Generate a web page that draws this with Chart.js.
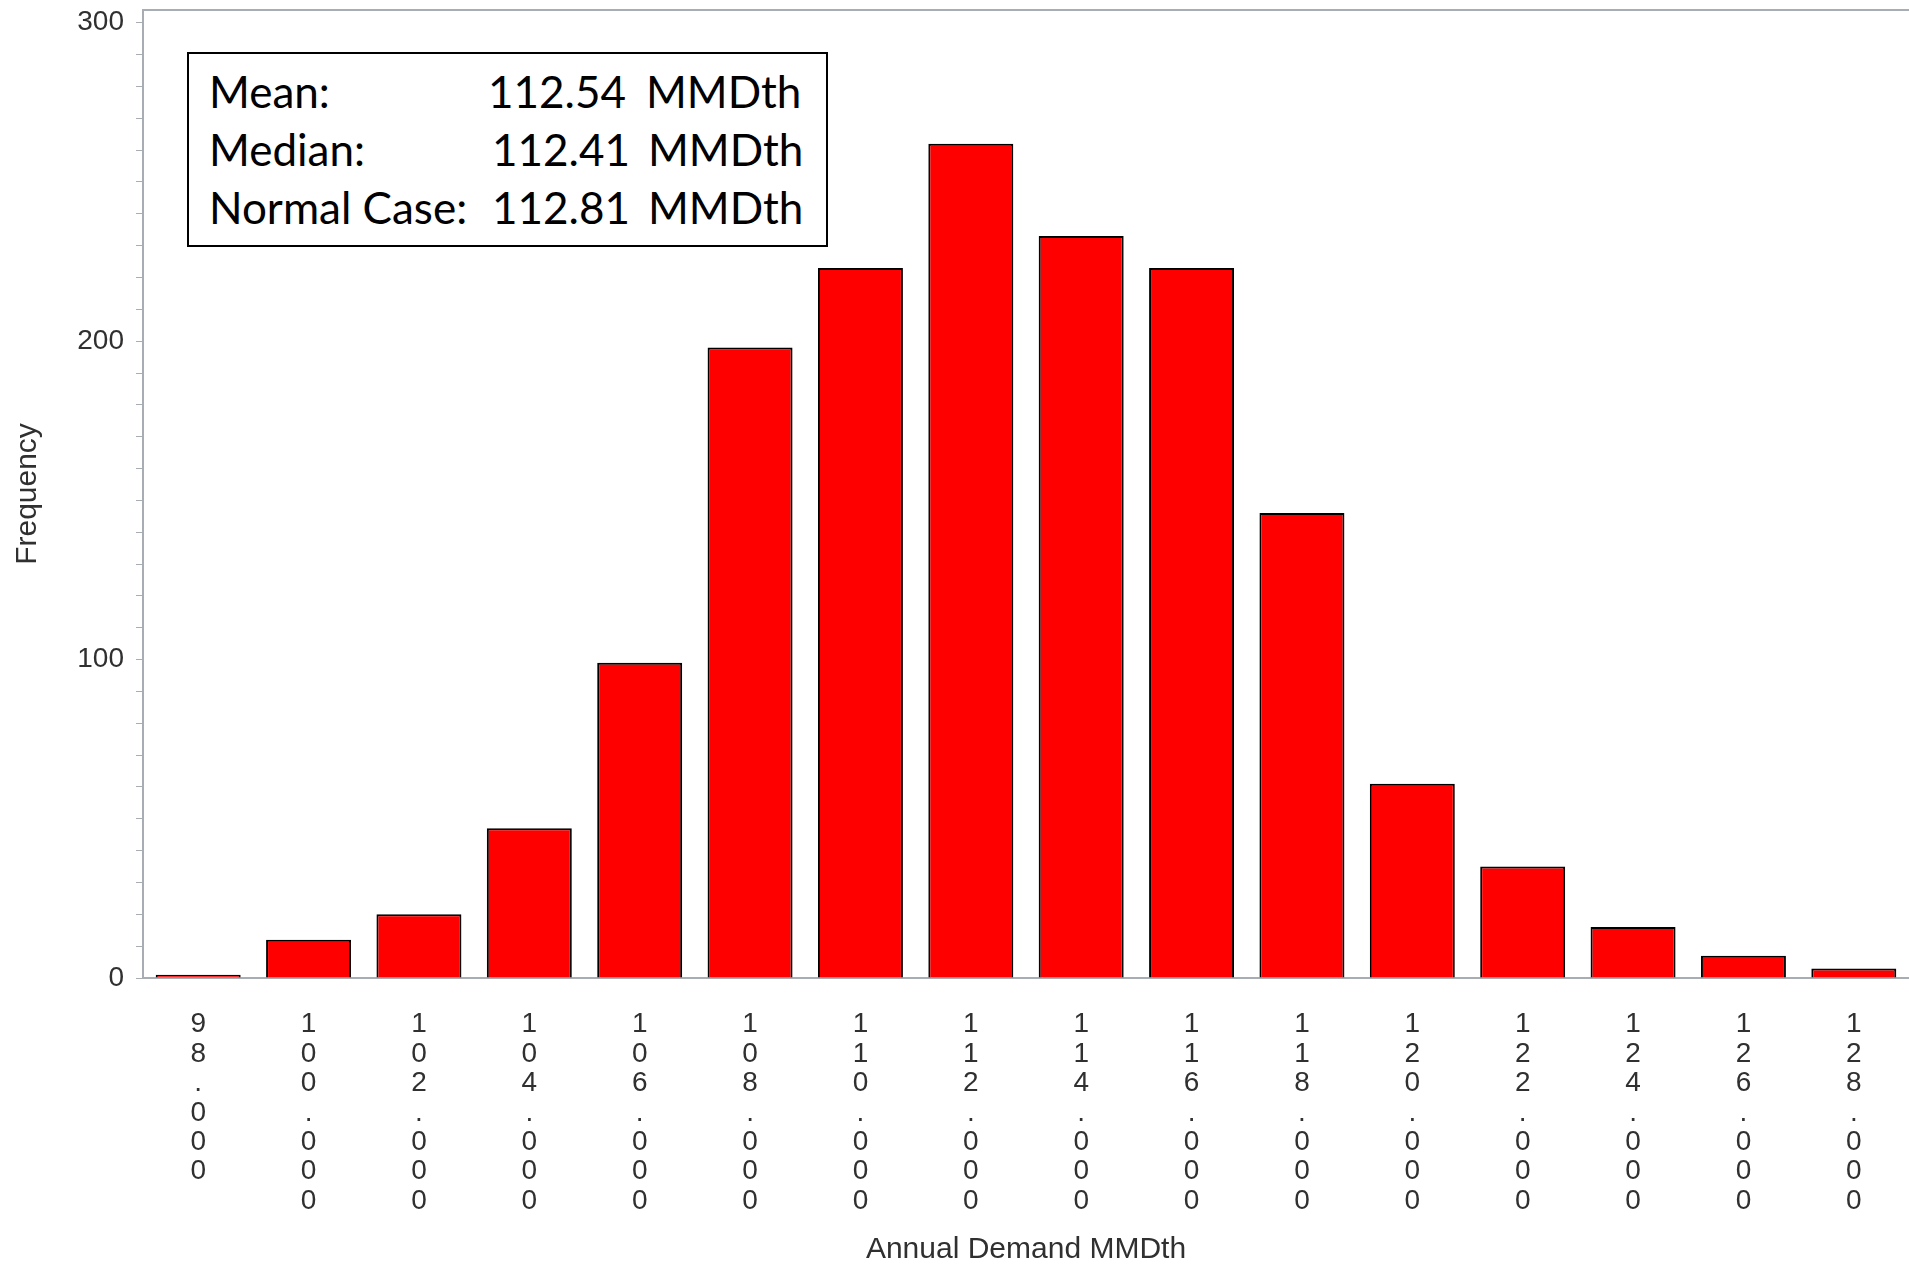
<!DOCTYPE html>
<html>

<head>
    <title>Annual Demand Distribution</title>
    <script src="https://cdn.jsdelivr.net/npm/chart.js@4.4.0/dist/chart.umd.min.js"></script>
    <style>
        body {
            margin: 0;
            background: #ffffff;
        }

        #wrap {
            position: relative;
            width: 1909px;
            height: 1265px;
            overflow: hidden;
        }

        .stats {
            position: absolute;
            left: 187px;
            top: 52px;
            width: 637px;
            height: 191px;
            border: 2px solid #000;
            background: #fff;
            font-family: Lato, "Open Sans", sans-serif;
            font-size: 44px;
            color: #000;
        }

        .row {
            position: absolute;
            left: 0;
            height: 58px;
            line-height: 58px;
            white-space: pre;
        }

        .row span {
            position: absolute;
            top: 0;
        }
    </style>
</head>

<body>
    <div id="wrap">
        <canvas id="histogram" width="1909" height="1265"></canvas>
        <div class="stats">
            <div class="row" style="top: 8px;"><span style="left: 20px;">Mean:</span><span style="left: 299px;">112.54</span><span style="left: 457px;">MMDth</span></div>
            <div class="row" style="top: 66px;"><span style="left: 20px;">Median:</span><span style="left: 303px;">112.41</span><span style="left: 459px;">MMDth</span></div>
            <div class="row" style="top: 124px;"><span style="left: 20px;">Normal Case:</span><span style="left: 303px;">112.81</span><span style="left: 459px;">MMDth</span></div>
        </div>
    </div>
    <script>
        // bins of annual demand (MMDth) and how many runs fell in each
        var categories = ['98.000', '100.000', '102.000', '104.000', '106.000', '108.000', '110.000', '112.000',
            '114.000', '116.000', '118.000', '120.000', '122.000', '124.000', '126.000', '128.000'];
        var frequency = [1, 12, 20, 47, 99, 198, 223, 262, 233, 223, 146, 61, 35, 16, 7, 3];
        var yTickLabels = [0, 100, 200, 300];

        var axisColor = '#a7adb3';
        var textColor = '#303030';
        var fontFamily = '"Liberation Sans", Arial, sans-serif';

        // the reference stacks each character of the bin label vertically
        var stackedLabels = categories.map(function(s) {
            return s.split('');
        });

        // thin grey frame line along the top of the plot
        var topBorder = {
            id: 'topBorder',
            afterDraw: function(chart) {
                var a = chart.chartArea;
                var c = chart.ctx;
                c.save();
                c.strokeStyle = axisColor;
                c.lineWidth = 2;
                c.beginPath();
                c.moveTo(a.left, a.top);
                c.lineTo(chart.width, a.top);
                c.stroke();
                c.restore();
            }
        };

        var ctx = document.getElementById('histogram').getContext('2d');
        var histogram = new Chart(ctx, {
            type: 'bar',
            data: {
                labels: stackedLabels,
                datasets: [{
                    label: 'Frequency',
                    data: frequency,
                    backgroundColor: '#ff0000',
                    borderColor: '#000000',
                    borderWidth: 2,
                    barPercentage: 0.77,
                    categoryPercentage: 1
                }]
            },
            options: {
                responsive: false,
                animation: false,
                layout: {
                    padding: { top: 10, right: -5, bottom: 0, left: 0 }
                },
                plugins: {
                    legend: { display: false },
                    tooltip: { enabled: false }
                },
                scales: {
                    x: {
                        grid: { display: false, drawTicks: false },
                        border: { color: axisColor, width: 2 },
                        ticks: {
                            color: textColor,
                            font: { family: fontFamily, size: 28, lineHeight: 1.05 },
                            padding: 32,
                            maxRotation: 0,
                            minRotation: 0,
                            autoSkip: false
                        },
                        title: {
                            display: true,
                            text: 'Annual Demand MMDth',
                            color: textColor,
                            font: { family: fontFamily, size: 30, lineHeight: 1.0 },
                            padding: { top: 0, bottom: 0 }
                        },
                        afterFit: function(scale) {
                            scale.height = 287;
                            scale.paddingLeft = 0;
                            scale.paddingRight = 0;
                        }
                    },
                    y: {
                        min: 0,
                        max: 304,
                        grid: {
                            drawOnChartArea: false,
                            color: axisColor,
                            tickLength: 7
                        },
                        border: { color: axisColor, width: 2 },
                        ticks: {
                            stepSize: 10,
                            includeBounds: false,
                            autoSkip: false,
                            padding: 12,
                            color: textColor,
                            font: { family: fontFamily, size: 28 },
                            callback: function(value) {
                                return yTickLabels.indexOf(value) >= 0 ? value : '';
                            }
                        },
                        title: {
                            display: true,
                            text: 'Frequency',
                            color: textColor,
                            font: { family: fontFamily, size: 30 },
                            padding: { top: 10, bottom: 0 }
                        },
                        afterFit: function(scale) {
                            scale.width = 143;
                            scale.paddingTop = 0;
                            scale.paddingBottom = 0;
                        }
                    }
                }
            },
            plugins: [topBorder]
        });
    </script>
</body>

</html>
